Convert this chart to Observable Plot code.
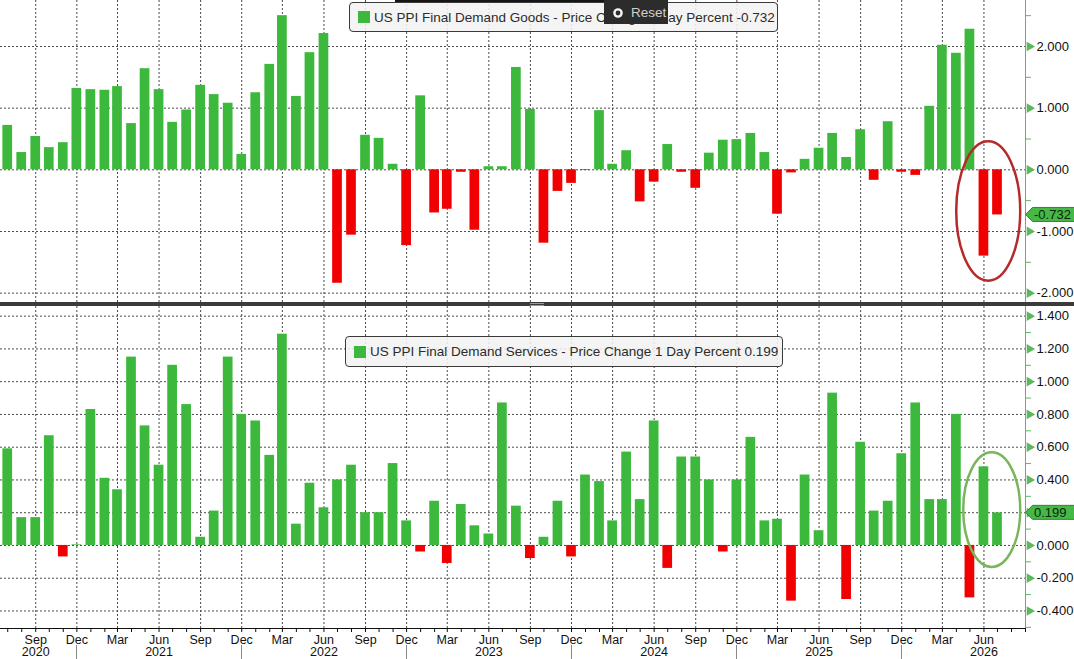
<!DOCTYPE html>
<html>
<head>
<meta charset="utf-8">
<script src="https://cdn.jsdelivr.net/npm/d3@7"></script>
<script src="https://cdn.jsdelivr.net/npm/@observablehq/plot@0.6"></script>
<style>
  html, body { margin: 0; padding: 0; background: #fff; }
  body { font-family: "Liberation Sans", Arial, sans-serif; }
  #wrap { position: relative; width: 1074px; height: 659px; overflow: hidden; background: #fff; }
  #top, #bot { position: absolute; left: 0; }
  #top { top: 0; }
  #bot { top: 306px; }
  #divider { position: absolute; left: 0; top: 302px; width: 1074px; height: 4px; background: #3b3b3b; }
  #grip1, #grip2 { position: absolute; left: 530px; width: 14px; height: 1px; background: #9a9a9a; }
  #grip1 { top: 303px; } #grip2 { top: 305px; }
  .legend { position: absolute; box-sizing: border-box; background: rgba(243,243,243,0.88);
            border: 1px solid #3a3a3a; border-radius: 4px; font-size: 13.5px; color: #2b2b2b;
            display: flex; align-items: center; white-space: nowrap; }
  .sw { width: 12px; height: 12px; background: #3cb93c; flex: none; }
  #strip { position: absolute; left: 395px; top: 0; width: 209px; height: 2px; background: #151515; }
  #reset { position: absolute; left: 604px; top: 0; width: 64px; height: 24px; background: #2c2c2c;
           color: #cfcfcf; font-size: 13.5px; display: flex; align-items: center; }
</style>
</head>
<body>
<div id="wrap">
  <div id="top"></div>
  <div id="divider"></div><div id="grip1"></div><div id="grip2"></div>
  <div id="bot"></div>
  <div class="legend" id="lg1" style="left:349px;top:2px;width:429px;height:30px;padding-left:8px;">
    <div class="sw"></div><span id="lg1t" style="margin-left:4px"></span>
  </div>
  <div id="strip"></div>
  <div id="reset">
    <svg width="28" height="24" style="flex:none"><circle cx="14" cy="13" r="3.6" fill="none" stroke="#f4f4f4" stroke-width="2.4"/></svg>
    <span style="margin-left:-1px">Reset</span>
  </div>
  <div class="legend" id="lg2" style="left:345px;top:336px;width:438px;height:31px;padding-left:8px;">
    <div class="sw"></div><span id="lg2t" style="margin-left:4px"></span>
  </div>
</div>
<script>
// ---------------- data ----------------
const months = d3.utcMonth.range(new Date(Date.UTC(2020, 6, 1)), new Date(Date.UTC(2026, 7, 1))); // Jul 2020 .. Jul 2026

const goods = [
  0.72, 0.28, 0.54, 0.36, 0.44, 1.32,                                   // 2020 Jul-Dec
  1.30, 1.29, 1.35, 0.75, 1.64, 1.30, 0.77, 0.97, 1.37, 1.22, 1.08, 0.25, // 2021
  1.25, 1.71, 2.50, 1.19, 1.90, 2.21, -1.84, -1.06, 0.56, 0.51, 0.09, -1.23, // 2022
  1.20, -0.70, -0.64, -0.04, -0.98, 0.05, 0.05, 1.66, 0.98, -1.19, -0.35, -0.22, // 2023
  -0.01, 0.96, 0.09, 0.31, -0.52, -0.20, 0.41, -0.04, -0.30, 0.27, 0.48, 0.49, // 2024
  0.59, 0.28, -0.72, -0.05, 0.17, 0.35, 0.59, 0.20, 0.65, -0.17, 0.78, -0.04, // 2025
  -0.09, 1.03, 2.02, 1.89, 2.28, -1.40, -0.732                          // 2026 Jan-Jul
];

const services = [
  0.59, 0.17, 0.17, 0.67, -0.07, 0.004,                                 // 2020 Jul-Dec
  0.83, 0.41, 0.34, 1.15, 0.73, 0.49, 1.10, 0.86, 0.05, 0.21, 1.15, 0.80, // 2021
  0.76, 0.55, 1.29, 0.13, 0.38, 0.23, 0.40, 0.49, 0.20, 0.20, 0.50, 0.15, // 2022
  -0.04, 0.27, -0.11, 0.25, 0.12, 0.07, 0.87, 0.24, -0.08, 0.05, 0.27, -0.07, // 2023
  0.43, 0.39, 0.15, 0.57, 0.28, 0.76, -0.14, 0.54, 0.54, 0.40, -0.04, 0.40, // 2024
  0.66, 0.15, 0.16, -0.34, 0.43, 0.09, 0.93, -0.33, 0.63, 0.21, 0.27, 0.56, // 2025
  0.87, 0.28, 0.28, 0.80, -0.32, 0.48, 0.199                            // 2026 Jan-Jul
];

const goodsLabel = "US PPI Final Demand Goods - Price Change 1 Day Percent";
const servicesLabel = "US PPI Final Demand Services - Price Change 1 Day Percent";

const topMajor = [-2, -1, 0, 1, 2];
const topMinor = [-1.5, -0.5, 0.5, 1.5, 2.5];
const botMajor = [-0.4, -0.2, 0, 0.2, 0.4, 0.6, 0.8, 1.0, 1.2, 1.4];
const botMinor = [-0.5, -0.3, -0.1, 0.1, 0.3, 0.5, 0.7, 0.9, 1.1, 1.3];

const yearLabelMonths = ["2020-09", "2021-06", "2022-06", "2023-06", "2024-06", "2025-06", "2026-06"];

// ---------------- layout / style ----------------
const W = 1074;
const green = "#3cb93c", red = "#f00000", axisGreen = "#5cb85c";
const gridColor = "#4a4a4a";
const xDomain = [new Date(Date.UTC(2020, 5, 15)), new Date(Date.UTC(2026, 8, 1))];
const half = 10.75 * 864e5;

const goodsData = months.map((d, i) => ({date: d, value: goods[i]}));
const servicesData = months.map((d, i) => ({date: d, value: services[i]}));
const allMonths = d3.utcMonth.range(xDomain[0], d3.utcDay.offset(xDomain[1], 1));
const quarterTicks = d3.utcMonth.range(xDomain[0], xDomain[1]).filter(d => d.getUTCMonth() % 3 === 2);
const decTicks = allMonths.filter(d => d.getUTCMonth() === 11);
const yearDates = yearLabelMonths.map(s => new Date(s + "-01T00:00:00Z"));

document.getElementById("lg1t").textContent = goodsLabel + " " + goods[goods.length - 1].toFixed(3);
document.getElementById("lg2t").textContent = servicesLabel + " " + services[services.length - 1].toFixed(3);

function valueTag(v) {
  return (index, scales, values, dim) => {
    const y = scales.y(v);
    const x0 = dim.width - dim.marginRight;
    const g = d3.create("svg:g");
    g.append("path")
      .attr("d", `M${x0 + 0.5},${y} L${x0 + 7.5},${y - 7} L${dim.width + 2},${y - 7} L${dim.width + 2},${y + 7} L${x0 + 7.5},${y + 7} Z`)
      .attr("fill", "#45b845").attr("stroke", "#2a8a2a").attr("stroke-width", 1);
    g.append("text").attr("x", x0 + 9).attr("y", y).attr("dy", "0.36em")
      .attr("text-anchor", "start")
      .attr("fill", "#0e260e").attr("font-size", 13).text(v.toFixed(3));
    return g.node();
  };
}

function ellipse(data, {color, padTop, padBottom, rx, dx}) {
  return (index, scales) => {
    const last = data.slice(-2);
    const cx = (scales.x(last[0].date) + scales.x(last[1].date)) / 2 + dx;
    const vals = last.map(d => d.value).concat([0]);
    const top = scales.y(d3.max(vals)) - padTop;
    const bottom = scales.y(d3.min(vals)) + padBottom;
    return d3.create("svg:ellipse")
      .attr("cx", cx).attr("cy", (top + bottom) / 2)
      .attr("rx", rx).attr("ry", (bottom - top) / 2)
      .attr("fill", "none").attr("stroke", color).attr("stroke-width", 2.5).node();
  };
}

function panelMarks(data, major, minor) {
  return [
    Plot.ruleY(major, {stroke: gridColor, strokeDasharray: "2,2"}),
    Plot.ruleX(quarterTicks, {stroke: gridColor, strokeDasharray: "2,2"}),
    Plot.rect(data, {filter: d => d.value >= 0, x1: d => new Date(+d.date - half), x2: d => new Date(+d.date + half), y1: 0, y2: "value", fill: green}),
    Plot.rect(data, {filter: d => d.value < 0, x1: d => new Date(+d.date - half), x2: d => new Date(+d.date + half), y1: 0, y2: "value", fill: red}),
    Plot.ruleX([xDomain[1]], {stroke: axisGreen, strokeWidth: 1}),
    Plot.axisY({anchor: "right", label: null, ticks: minor, tickSize: 5, tickFormat: () => "", stroke: axisGreen}),
    Plot.dot(major, {y: d => d, frameAnchor: "right", symbol: "triangle", r: 3.6, fill: axisGreen, stroke: null, rotate: 90, dx: 4}),
    Plot.axisY({anchor: "right", label: null, ticks: major, tickSize: 0, tickPadding: 11, tickFormat: d => d.toFixed(3), fill: "#111", fontSize: 13})
  ];
}

const common = {
  width: W,
  marginLeft: 0,
  marginRight: W - 1025,
  marginTop: 0,
  x: {type: "utc", domain: xDomain, axis: null},
  style: {fontFamily: "'Liberation Sans', Arial, sans-serif", fontSize: "13px", background: "transparent", overflow: "visible", color: "#111"}
};

const topChart = Plot.plot({
  ...common,
  height: 302,
  marginBottom: 0,
  y: {domain: [-2.152, 2.746], axis: null},
  marks: [
    ...panelMarks(goodsData, topMajor, topMinor),
    ellipse(goodsData, {color: "#b52a2a", padTop: 28, padBottom: 25, rx: 32, dx: -2}),
    valueTag(goods[goods.length - 1])
  ]
});

const botChart = Plot.plot({
  ...common,
  height: 353,
  marginBottom: 31,
  y: {domain: [-0.507, 1.459], axis: null},
  marks: [
    ...panelMarks(servicesData, botMajor, botMinor),
    ellipse(servicesData, {color: "#79b55a", padTop: 14, padBottom: 22, rx: 28.5, dx: 1.5}),
    valueTag(services[services.length - 1]),
    Plot.ruleY([-0.507], {stroke: "#111"}),
    Plot.axisX({ticks: allMonths, label: null, tickSize: 4, tickFormat: () => "", stroke: "#111"}),
    Plot.axisX({ticks: quarterTicks, label: null, tickSize: 0, tickPadding: 7, tickFormat: d3.utcFormat("%b"), fill: "#111", fontSize: 12.5}),
    Plot.axisX({ticks: yearDates, label: null, tickSize: 0, tickPadding: 19, tickFormat: d3.utcFormat("%Y"), fill: "#111", fontSize: 12.5}),
    (index, scales, values, dim) => {
      const g = d3.create("svg:g").attr("stroke", "#8a8a8a").attr("stroke-width", 1);
      for (const d of decTicks) {
        const x = Math.round(scales.x(d)) + 0.5;
        g.append("line").attr("x1", x).attr("x2", x).attr("y1", dim.height - 14).attr("y2", dim.height);
      }
      return g.node();
    }
  ]
});

document.getElementById("top").appendChild(topChart);
document.getElementById("bot").appendChild(botChart);
</script>
</body>
</html>
